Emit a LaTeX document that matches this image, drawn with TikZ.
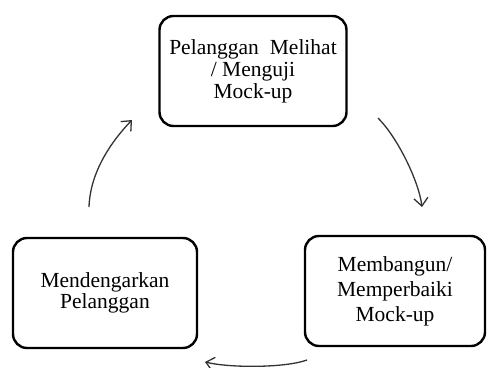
\documentclass[tikz,border=0pt]{standalone}
\usepackage{fontspec}
\setmainfont{Liberation Serif}
\usetikzlibrary{arrows.meta}

\tikzset{
  stagebox/.style={draw=black, line width=2.4pt, rounded corners=14pt,
    inner sep=0pt, align=center, text=black},
  cyclearrow/.style={draw=black!80, line width=1.3pt,
    -{Straight Barb[length=8pt,width=14pt,line width=1.3pt]}}
}

\begin{document}
\begin{tikzpicture}[x=1pt, y=-1pt]
  \useasboundingbox (0,0) rectangle (487,367);

  % the three stages of the cycle
  \node[stagebox, minimum width=187pt, minimum height=110pt,
        font=\fontsize{21.5}{22}\selectfont] (see) at (253,71)
    {Pelanggan\hspace{11pt}Melihat\\/ Menguji\\Mock-up};
  \node[stagebox, minimum width=184pt, minimum height=110pt,
        font=\fontsize{21.5}{17}\selectfont] (listen) at (105,293)
    {Mendengarkan\\Pelanggan};
  \node[stagebox, minimum width=180pt, minimum height=110pt,
        font=\fontsize{21.5}{25}\selectfont] (build) at (395,291)
    {Membangun/\\Memperbaiki\\Mock-up};

  % arrow end points
  \coordinate (a1s) at (378,118);
  \coordinate (a1e) at (422,207);
  \coordinate (a2s) at (307,360);
  \coordinate (a2e) at (205,362);
  \coordinate (a3s) at (89,207);
  \coordinate (a3e) at (132,120);

  % curved arrows running clockwise
  \draw[cyclearrow] (a1s) .. controls (398,138) and (419,182) .. (a1e);
  \draw[cyclearrow] (a2s) .. controls (285,368) and (230,368) .. (a2e);
  \draw[cyclearrow] (a3s) .. controls (90,175) and (108,145) .. (a3e);
\end{tikzpicture}
\end{document}
